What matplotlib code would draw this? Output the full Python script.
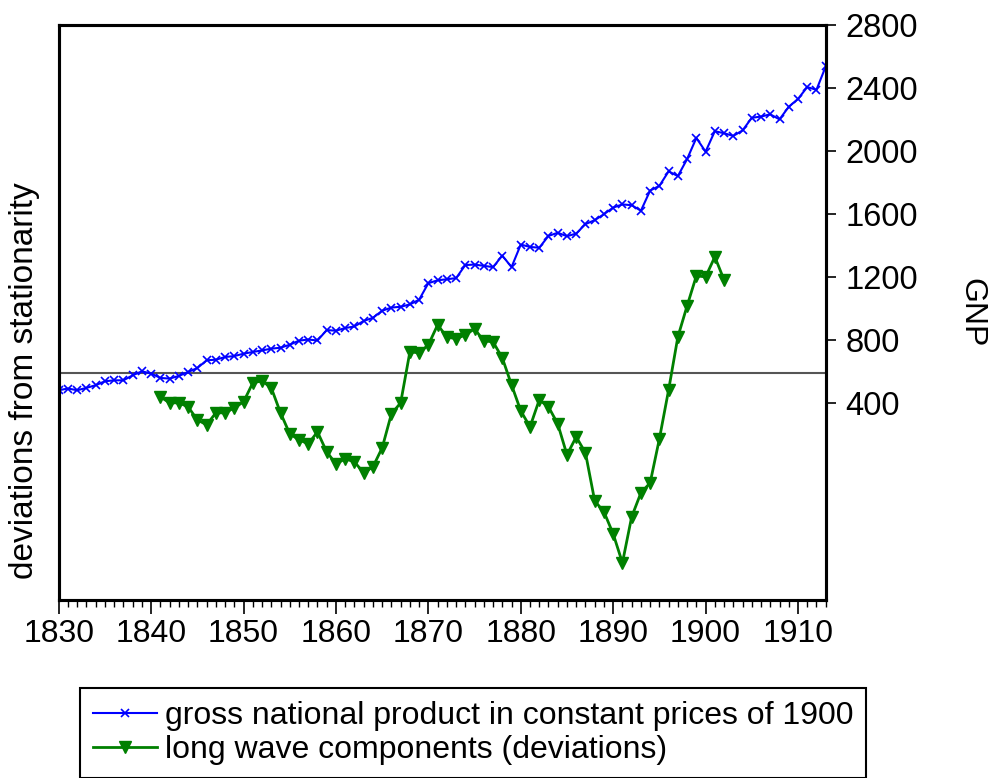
import matplotlib
matplotlib.use('Agg')
import matplotlib.pyplot as plt
from matplotlib.ticker import MultipleLocator

plt.rcParams['font.family'] = ['Liberation Sans', 'DejaVu Sans']

# GNP in constant prices of 1900, 1830-1913 (right axis)
gnp_years = list(range(1830, 1914))
gnp = [480, 491, 480, 495, 512, 537, 543, 543, 575, 600,
       586, 558, 554, 571, 596, 621, 670, 674, 691, 697,
       712, 723, 733, 744, 750, 769, 795, 802, 796, 862,
       858, 875, 885, 920, 940, 985, 1005, 1010, 1025, 1055,
       1160, 1178, 1185, 1192, 1275, 1278, 1270, 1262, 1335, 1262,
       1405, 1390, 1385, 1460, 1480, 1458, 1475, 1535, 1560, 1598,
       1640, 1660, 1655, 1620, 1748, 1778, 1870, 1840, 1948, 2082,
       1995, 2125, 2112, 2095, 2130, 2210, 2218, 2232, 2200, 2280,
       2330, 2405, 2388, 2536]

# long wave component (deviations from stationarity), 1841-1902 (left axis)
lw_years = list(range(1841, 1903))
long_wave = [-0.024, -0.030, -0.030, -0.034, -0.047, -0.052, -0.040, -0.040, -0.035, -0.029,
             -0.010, -0.008, -0.015, -0.040, -0.061, -0.067, -0.071, -0.059, -0.079, -0.091,
             -0.086, -0.089, -0.100, -0.094, -0.075, -0.041, -0.030, 0.021, 0.020, 0.028,
             0.048, 0.036, 0.034, 0.038, 0.044, 0.032, 0.031, 0.015, -0.012, -0.038,
             -0.054, -0.027, -0.034, -0.051, -0.082, -0.064, -0.080, -0.128, -0.139, -0.161,
             -0.190, -0.144, -0.120, -0.110, -0.066, -0.017, 0.036, 0.067, 0.097, 0.096,
             0.116, 0.093]

gnp_ticks = [400, 800, 1200, 1600, 2000, 2400, 2800]

fig = plt.figure(figsize=(9.89, 7.78), dpi=100)
ax = fig.add_axes([0.0594, 0.229, 0.7755, 0.739])
ax2 = ax.twinx()

# left axis: long wave
ax.axhline(0, color='#555555', lw=1.5, zorder=1)
l2, = ax.plot(lw_years, long_wave, color='#008000', lw=2, marker='v',
              markersize=8.5, label='long wave components (deviations)')
ax.set_ylim(-0.227, 0.348)
ax.set_xlim(1830, 1913)
ax.tick_params(axis='y', left=False, labelleft=False)
ax.xaxis.set_major_locator(MultipleLocator(10))
ax.xaxis.set_minor_locator(MultipleLocator(1))
ax.tick_params(axis='x', which='major', length=10, width=1.2, direction='out',
               labelsize=23, pad=4, top=False)
ax.tick_params(axis='x', which='minor', length=5, width=1, direction='out', top=False)

# right axis: GNP
l1, = ax2.plot(gnp_years, gnp, color='#0000ff', lw=1.5, marker='x',
               markersize=6, mew=1.2, label='gross national product in constant prices of 1900')
ax2.set_ylim(-851, 2800)
ax2.set_yticks(gnp_ticks)
ax2.tick_params(axis='y', length=7, width=1.2, direction='out', labelsize=23.5, pad=7)

for a in (ax, ax2):
    for s in a.spines.values():
        s.set_linewidth(2.2)

fig.text(25 / 989, 1 - 381 / 778, 'deviations from stationarity', rotation=90,
         fontsize=24, ha='center', va='center')
fig.text(971 / 989, 1 - 313 / 778, 'GNP', rotation=270,
         fontsize=23, ha='center', va='center')

leg = fig.legend([l1, l2], [l1.get_label(), l2.get_label()], loc='upper left',
                 bbox_to_anchor=(80 / 989, 1 - 688 / 778), fontsize=23,
                 frameon=True, fancybox=False, edgecolor='black', framealpha=1,
                 handlelength=2.0, handletextpad=0.25, borderaxespad=0,
                 labelspacing=0.13, borderpad=0.4)
leg.get_frame().set_linewidth(1.5)

fig.savefig('out.png', dpi=100)
